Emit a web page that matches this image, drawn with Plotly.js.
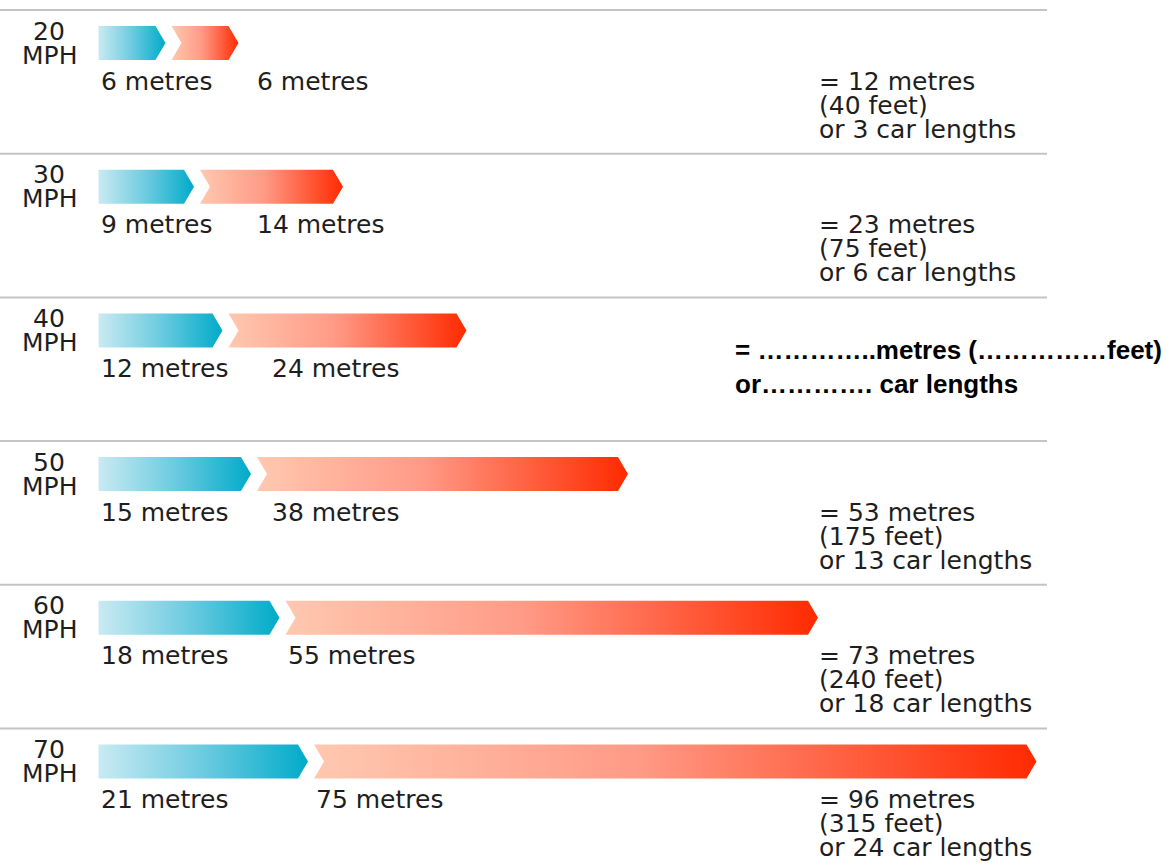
<!DOCTYPE html>
<html>
<head>
<meta charset="utf-8">
<script src="https://cdn.plot.ly/plotly-3.0.1.min.js"></script>
<style>
  html, body { margin: 0; padding: 0; background: #ffffff; }
  #chart { width: 1172px; height: 865px; }
</style>
</head>
<body>
<div id="chart"></div>
<script>
// ---- data ----
var speeds = [20, 30, 40, 50, 60, 70];            // MPH
var thinkingMetres = [6, 9, 12, 15, 18, 21];      // blue arrows
var brakingMetres = [6, 14, 24, 38, 55, 75];      // red arrows
var totalMetres = [12, 23, null, 53, 73, 96];     // 40 MPH left blank (exercise)
var totalFeet = [40, 75, null, 175, 240, 315];
var carLengths = [3, 6, null, 13, 18, 24];
var blankLine1 = "= …………..metres (……………feet)";
var blankLine2 = "or…………. car lengths";

// ---- style ----
var W = 1172, H = 865;
var PX_PER_M = 9.5;          // horizontal scale
var ZERO_PX = 98.5;          // where 0 m sits
var ROW0_PX = 43, ROW_STEP = 143.7;
var TIP = 10 / PX_PER_M;     // arrow point depth (m-units)
var GAP = 16 / PX_PER_M;     // gap from blue body end to red start
var HALF = 17 / ROW_STEP;    // arrow half-height (row units)
var textColor = '#1e1e1e';
var fontMain = 'DejaVu Sans, Verdana, sans-serif';
var fontBold = 'Liberation Sans, Arial, sans-serif';
var FS = 25;

var xMin = -ZERO_PX / PX_PER_M;
var xMax = xMin + W / PX_PER_M;
var yTop = -ROW0_PX / ROW_STEP;
var yBot = (H - ROW0_PX) / ROW_STEP;

var traces = [];
var annotations = [];
var shapes = [];

function pxToM(px) { return (px - ZERO_PX) / PX_PER_M; }

for (var i = 0; i < speeds.length; i++) {
  var c = i;
  var b = thinkingMetres[i];
  var rs = b + GAP;
  var re = rs + brakingMetres[i];

  // blue (thinking distance)
  traces.push({
    type: 'scatter', mode: 'lines', hoverinfo: 'skip', showlegend: false,
    x: [0, b, b + TIP, b, 0, 0],
    y: [c - HALF, c - HALF, c, c + HALF, c + HALF, c - HALF],
    fill: 'toself', line: { width: 0, color: 'rgba(0,0,0,0)' },
    fillgradient: { type: 'horizontal',
      colorscale: [[0, '#c9eaf2'], [0.5, '#6ccbe0'], [1, '#00abc9']] }
  });
  // red (braking distance)
  traces.push({
    type: 'scatter', mode: 'lines', hoverinfo: 'skip', showlegend: false,
    x: [rs, re, re + TIP, re, rs, rs + TIP, rs],
    y: [c - HALF, c - HALF, c, c + HALF, c + HALF, c, c - HALF],
    fill: 'toself', line: { width: 0, color: 'rgba(0,0,0,0)' },
    fillgradient: { type: 'horizontal',
      colorscale: [[0, '#ffc8b0'], [0.45, '#ff9a86'], [1, '#ff2a00']] }
  });

  // separator line above each row
  shapes.push({
    type: 'line', xref: 'paper', yref: 'y',
    x0: 0, x1: 1047 / W, y0: c - 33 / ROW_STEP, y1: c - 33 / ROW_STEP,
    line: { color: '#c4c4c4', width: 2 }
  });

  // speed label
  annotations.push({ xref: 'paper', yref: 'y', x: 49 / W, y: c, yshift: 12,
    text: String(speeds[i]), showarrow: false, xanchor: 'center', yanchor: 'middle',
    font: { family: fontMain, size: FS, color: textColor } });
  annotations.push({ xref: 'paper', yref: 'y', x: 49 / W, y: c, yshift: -12,
    text: 'MPH', showarrow: false, xanchor: 'center', yanchor: 'middle',
    font: { family: fontMain, size: FS, color: textColor } });

  // distance labels
  var blueLabel = thinkingMetres[i] + ' metres';
  annotations.push({ xref: 'x', yref: 'y', x: 0, y: c, yshift: -38,
    text: blueLabel, showarrow: false, xanchor: 'left', yanchor: 'middle',
    font: { family: fontMain, size: FS, color: textColor } });
  var blueLabelEndPx = ZERO_PX + blueLabel.length * 14.6;
  var redLabelX = Math.max(rs, pxToM(blueLabelEndPx + 40));
  annotations.push({ xref: 'x', yref: 'y', x: redLabelX, y: c, yshift: -38,
    text: brakingMetres[i] + ' metres', showarrow: false, xanchor: 'left', yanchor: 'middle',
    font: { family: fontMain, size: FS, color: textColor } });

  // totals
  if (totalMetres[i] !== null) {
    var lines = ['= ' + totalMetres[i] + ' metres',
                 '(' + totalFeet[i] + ' feet)',
                 'or ' + carLengths[i] + ' car lengths'];
    for (var k = 0; k < lines.length; k++) {
      annotations.push({ xref: 'paper', yref: 'y', x: 817 / W, y: c, yshift: -38 - 24 * k,
        text: lines[k], showarrow: false, xanchor: 'left', yanchor: 'middle',
        font: { family: fontMain, size: FS, color: textColor } });
    }
  } else {
    annotations.push({ xref: 'paper', yref: 'y', x: 733 / W, y: c, yshift: -20,
      text: '<b>' + blankLine1 + '</b>', showarrow: false, xanchor: 'left', yanchor: 'middle',
      font: { family: fontBold, size: 26, color: '#000000' } });
    annotations.push({ xref: 'paper', yref: 'y', x: 733 / W, y: c, yshift: -54,
      text: '<b>' + blankLine2 + '</b>', showarrow: false, xanchor: 'left', yanchor: 'middle',
      font: { family: fontBold, size: 26, color: '#000000' } });
  }
}

var layout = {
  width: W, height: H,
  margin: { l: 0, r: 0, t: 0, b: 0, pad: 0 },
  paper_bgcolor: '#ffffff', plot_bgcolor: '#ffffff',
  showlegend: false,
  xaxis: { range: [xMin, xMax], visible: false, fixedrange: true },
  yaxis: { range: [yBot, yTop], visible: false, fixedrange: true },
  shapes: shapes,
  annotations: annotations
};

Plotly.newPlot('chart', traces, layout, { staticPlot: true, displayModeBar: false });
</script>
</body>
</html>
